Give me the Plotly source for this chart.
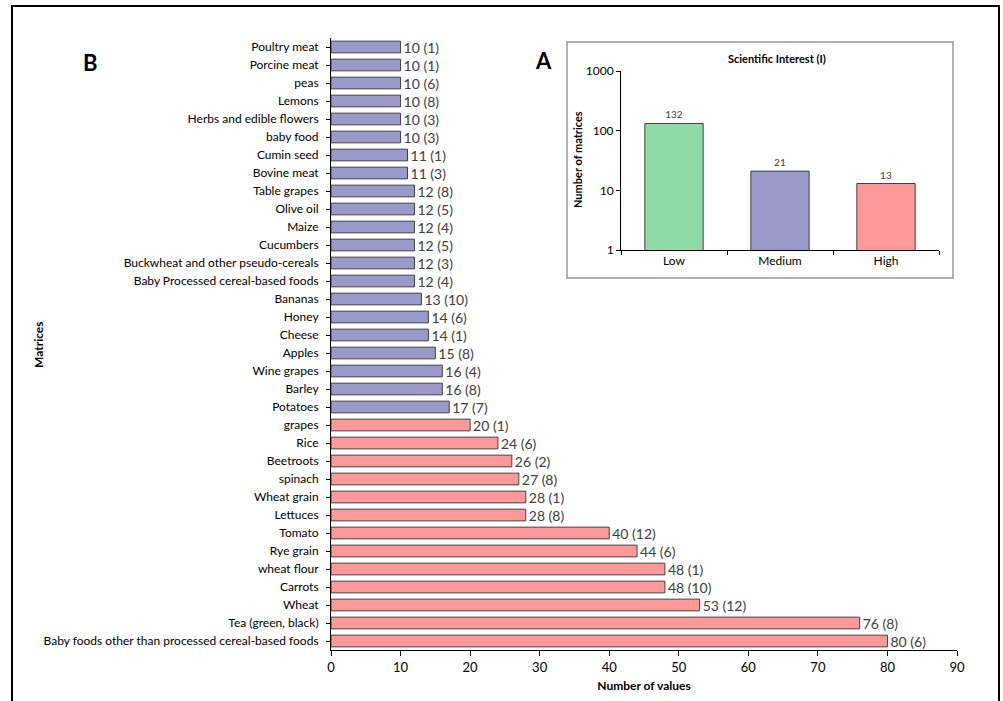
import plotly.graph_objects as go

# ---- Panel B data (top to bottom) ----
matrices = [
    "Poultry meat", "Porcine meat", "peas", "Lemons", "Herbs and edible flowers",
    "baby food", "Cumin seed", "Bovine meat", "Table grapes", "Olive oil", "Maize",
    "Cucumbers", "Buckwheat and other pseudo-cereals", "Baby Processed cereal-based foods",
    "Bananas", "Honey", "Cheese", "Apples", "Wine grapes", "Barley", "Potatoes",
    "grapes", "Rice", "Beetroots", "spinach", "Wheat grain", "Lettuces", "Tomato",
    "Rye grain", "wheat flour", "Carrots", "Wheat", "Tea (green, black)",
    "Baby foods other than processed cereal-based foods",
]
n_values = [10, 10, 10, 10, 10, 10, 11, 11, 12, 12, 12, 12, 12, 12, 13, 14, 14, 15, 16, 16, 17,
            20, 24, 26, 27, 28, 28, 40, 44, 48, 48, 53, 76, 80]
n_refs = [1, 1, 6, 8, 3, 3, 1, 3, 8, 5, 4, 5, 3, 4, 10, 6, 1, 8, 4, 8, 7,
          1, 6, 2, 8, 1, 8, 12, 6, 1, 10, 12, 8, 6]
interest = ["Medium"] * 21 + ["High"] * 13

# ---- Panel A data ----
levels = ["Low", "Medium", "High"]
level_counts = [132, 21, 13]

colors = {"Low": "#8FDBA8", "Medium": "#9999CC", "High": "#FF9999"}
FONT = "Lato"
W, H = 1003, 701

def px(x):
    return x / W

def py(y):
    return (H - y) / H

fig = go.Figure()

fig.add_trace(go.Bar(
    y=matrices, x=n_values, orientation="h",
    marker=dict(color=[colors[c] for c in interest], line=dict(color="#404040", width=1)),
    width=0.65,
    text=[f"{v} ({r})" for v, r in zip(n_values, n_refs)],
    textposition="outside", constraintext="none", cliponaxis=False,
    textfont=dict(family=FONT, size=14, color="#404040"),
    xaxis="x", yaxis="y", showlegend=False,
))

fig.add_trace(go.Bar(
    x=levels, y=level_counts,
    marker=dict(color=[colors[l] for l in levels], line=dict(color="#404040", width=1)),
    width=0.55,
    text=[str(v) for v in level_counts],
    textposition="outside", constraintext="none", cliponaxis=False,
    textfont=dict(family=FONT, size=10, color="#404040"),
    xaxis="x2", yaxis="y2", showlegend=False,
))

def note(text, x, y, size, angle=0):
    return dict(text=text, x=px(x), y=py(y), xref="paper", yref="paper",
                xanchor="center", yanchor="middle", showarrow=False,
                textangle=angle, font=dict(size=size, color="black"))

fig.update_layout(
    width=W, height=H,
    margin=dict(l=0, r=0, t=0, b=0),
    paper_bgcolor="white", plot_bgcolor="rgba(0,0,0,0)",
    font=dict(family=FONT, size=12, color="black"),
    xaxis=dict(
        domain=[px(331), px(957)], range=[0, 90], dtick=10,
        showgrid=False, zeroline=False, showline=True, linecolor="black", linewidth=1,
        ticks="outside", ticklen=5, tickcolor="black",
        tickfont=dict(size=13, color="black"),
        title=dict(text="<b>Number of values</b>", font=dict(size=12), standoff=8),
        anchor="y", automargin=False,
    ),
    yaxis=dict(
        domain=[py(650), py(38)], range=[len(matrices) - 0.5, -0.5],
        showgrid=False, zeroline=False, showline=True, linecolor="black", linewidth=1,
        ticks="outside", ticklen=4, tickcolor="black", ticklabelstandoff=5,
        tickfont=dict(size=12, color="black"),
        anchor="x", automargin=False,
    ),
    xaxis2=dict(
        domain=[px(621), px(939)], range=[-0.5, 2.5],
        showgrid=False, zeroline=False, showline=True, linecolor="black", linewidth=1,
        ticks="outside", ticklen=4, tickcolor="black", tickson="boundaries",
        tickfont=dict(size=12, color="black"),
        anchor="y2", automargin=False,
    ),
    yaxis2=dict(
        domain=[py(250), py(71)], type="log", range=[0, 3],
        tickvals=[1, 10, 100, 1000], ticktext=["1", "10", "100", "1000"],
        showgrid=False, zeroline=False, showline=True, linecolor="black", linewidth=1,
        ticks="outside", ticklen=4, tickcolor="black",
        tickfont=dict(size=12, color="black"),
        anchor="x2", automargin=False,
    ),
    shapes=[
        dict(type="rect", xref="paper", yref="paper",
             x0=px(12), x1=px(999), y0=-0.02, y1=py(6),
             line=dict(color="black", width=2)),
        dict(type="rect", xref="paper", yref="paper",
             x0=px(567), x1=px(953), y0=py(278), y1=py(42),
             line=dict(color="#999999", width=1.5), fillcolor="rgba(0,0,0,0)"),
    ],
    annotations=[
        note("<b>B</b>", 90, 62, 22),
        note("<b>A</b>", 543, 60, 22),
        note("<b>Matrices</b>", 38, 345, 12, -90),
        note("<b>Scientific Interest (I)</b>", 777, 58, 11),
        note("<b>Number of matrices</b>", 577, 160, 11, -90),
    ],
)

fig.write_html(
    "out.html",
    config={"displayModeBar": False},
    post_script="document.body.style.margin='0';document.body.style.overflow='hidden';",
)
